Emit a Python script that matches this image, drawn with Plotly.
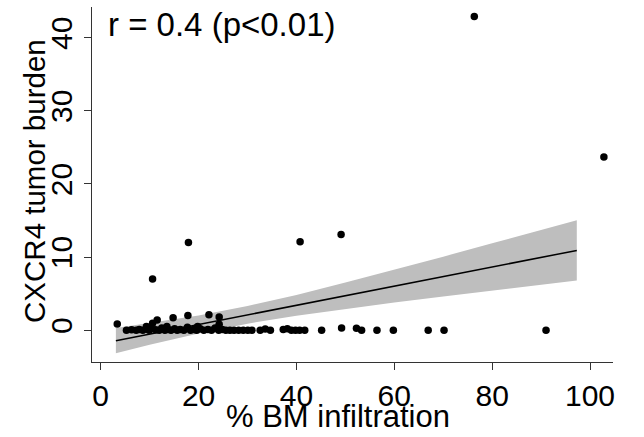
import plotly.graph_objects as go

# Scatter data: % BM infiltration vs CXCR4 tumor burden
bm_infiltration = [
    5.26, 6.31, 7.25, 7.88, 8.61, 9.34, 9.87, 10.39, 11.23, 11.96, 12.48, 13.11,
    13.74, 14.37, 15.1, 15.63, 16.25, 16.99, 17.72, 18.35, 18.98, 19.6, 20.34,
    21.07, 21.91, 22.64, 23.37, 24.11, 24.84, 25.57, 26.41, 27.25, 28.19, 29.13,
    30.07, 30.91, 32.59, 33.63, 34.68, 37.3, 38.14, 38.97, 39.81, 40.65, 41.7,
    45.15, 49.23, 52.27, 53.32, 56.46, 59.81, 66.93, 70.17, 91.01,
    3.38, 9.34, 10.6, 11.54, 13.53, 14.79, 17.82, 19.81, 22.12, 24.21, 24.21,
    10.6, 17.93, 40.75, 49.13, 76.35, 102.84,
]
tumor_burden = [
    0.0, 0.05, 0.0, 0.1, 0.0, 0.15, 0.0, 0.2, 0.05, 0.0, 0.3, 0.0,
    0.1, 0.0, 0.2, 0.0, 0.1, 0.0, 0.4, 0.0, 0.1, 0.0, 0.2,
    0.0, 0.1, 0.0, 0.3, 0.0, 0.1, 0.0, 0.0, 0.0, 0.0, 0.0,
    0.0, 0.0, 0.0, 0.15, 0.0, 0.1, 0.2, 0.0, 0.0, 0.0, 0.0,
    0.0, 0.3, 0.25, 0.0, 0.0, 0.0, 0.0, 0.0, 0.0,
    0.85, 0.5, 0.95, 1.4, 0.5, 1.7, 2.0, 0.5, 2.1, 1.8, 0.8,
    7.0, 12.0, 12.1, 13.1, 42.9, 23.7,
]

# Regression fit line and confidence band
fit_x = [3.1, 97.3]
fit_y = [-1.43, 10.91]
band_x = [3.1, 10, 20, 30, 40, 50, 60, 70, 80, 97.3]
band_upper = [0.30, 0.96, 2.02, 3.31, 4.83, 6.51, 8.26, 10.06, 11.88, 15.02]
band_lower = [-3.16, -2.00, -0.44, 0.89, 1.99, 2.93, 3.78, 4.60, 5.40, 6.80]

x_ticks = [0, 20, 40, 60, 80, 100]
y_ticks = [0, 10, 20, 30, 40]

x_title = "% BM infiltration"
y_title = "CXCR4 tumor burden"
stat_label = "r = 0.4 (p<0.01)"

FONT = "Liberation Sans, Arial, sans-serif"
BAND = "rgb(190,190,190)"
AX = "#333"

fig = go.Figure()
fig.add_trace(go.Scatter(x=band_x, y=band_upper, mode="lines",
                         line=dict(width=0, color=BAND), hoverinfo="skip",
                         showlegend=False))
fig.add_trace(go.Scatter(x=band_x, y=band_lower, mode="lines",
                         line=dict(width=0, color=BAND), fill="tonexty",
                         fillcolor=BAND, hoverinfo="skip", showlegend=False))
fig.add_trace(go.Scatter(x=fit_x, y=fit_y, mode="lines",
                         line=dict(color="black", width=1.5), showlegend=False))
fig.add_trace(go.Scatter(x=bm_infiltration, y=tumor_burden, mode="markers",
                         marker=dict(color="black", size=7.5, line=dict(width=0)),
                         showlegend=False))

axis_common = dict(
    showgrid=False, zeroline=False, showline=True, linecolor=AX,
    linewidth=1, ticks="outside", ticklen=7, tickwidth=1, tickcolor=AX,
    tickfont=dict(family=FONT, size=30, color="black"),
)

fig.update_layout(
    width=644, height=437,
    margin=dict(l=92, r=31, t=7, b=75),
    plot_bgcolor="white", paper_bgcolor="white",
    xaxis=dict(range=[-1.78, 104.7], tickvals=x_ticks, **axis_common),
    yaxis=dict(range=[-4.35, 44.2], tickvals=y_ticks, tickangle=-90,
               **axis_common),
    annotations=[
        dict(text=stat_label, xref="paper", yref="paper",
             x=0.026, y=0.95, xanchor="left", yanchor="middle",
             showarrow=False,
             font=dict(family=FONT, size=33, color="black")),
        dict(text=x_title, xref="paper", yref="paper",
             x=0.472, y=-0.208, xanchor="center", yanchor="bottom",
             showarrow=False,
             font=dict(family=FONT, size=31, color="black")),
        dict(text=y_title, xref="paper", yref="paper", textangle=-90,
             x=-0.1094, y=0.51, xanchor="center", yanchor="middle",
             showarrow=False,
             font=dict(family=FONT, size=29.5, color="black")),
    ],
)

fig.write_html("out.html")
